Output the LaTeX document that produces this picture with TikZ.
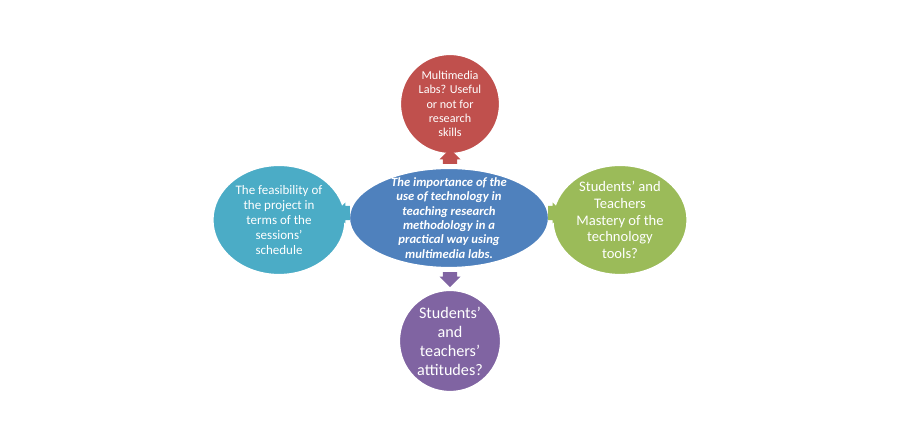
\documentclass[tikz,border=0pt]{standalone}
\usepackage{fontspec}
\setmainfont{Carlito}
\usepackage{xcolor}
\usetikzlibrary{shapes.arrows,shapes.geometric}
\definecolor{hubblue}{HTML}{4F81BD}
\definecolor{labred}{HTML}{C0504D}
\definecolor{feasteal}{HTML}{4BACC6}
\definecolor{mastgreen}{HTML}{9BBB59}
\definecolor{attpurple}{HTML}{8064A2}
\tikzset{
  bubble/.style={ellipse, draw=white, line width=1.2pt, text=white, align=center, inner sep=-3pt},
  pointer/.style={single arrow, draw=none, minimum height=0.26cm, minimum width=0.42cm, single arrow head extend=1pt, single arrow head indent=0pt, inner sep=2pt}
}
\begin{document}
\begin{tikzpicture}[x=0.02cm,y=-0.02cm]
\useasboundingbox (0,0) rectangle (900,431);

% Centre
\node[bubble, fill=hubblue, minimum width=4cm, minimum height=2cm, font=\fontsize{7.2}{8.2}\selectfont\bfseries\itshape] (hub) at (449,218)
  {The importance of the\\use of technology in\\teaching research\\methodology in a\\practical way using\\multimedia labs.};

% Satellites
\node[bubble, fill=labred, minimum width=2cm, minimum height=2cm, font=\fontsize{6.9}{8.2}\selectfont] (labs) at (450,104)
  {Multimedia\\Labs? Useful\\or not for\\research\\skills};
\node[bubble, fill=feasteal, minimum width=2.66cm, minimum height=2.2cm, font=\fontsize{7.4}{8.6}\selectfont] (feas) at (279,220)
  {The feasibility of\\the project in\\terms of the\\sessions'\\schedule};
\node[bubble, fill=mastgreen, minimum width=2.7cm, minimum height=2.2cm, font=\fontsize{8.3}{9.5}\selectfont] (mast) at (620,220)
  {Students' and\\Teachers\\Mastery of the\\technology\\tools?};
\node[bubble, fill=attpurple, minimum width=2.04cm, minimum height=2.04cm, font=\fontsize{9.2}{10.8}\selectfont] (att) at (450,341)
  {Students'\\and\\teachers'\\attitudes?};

% Small arrows
\node[pointer, fill=labred, shape border rotate=90] (upar) at (450,160) {};
\node[pointer, fill=attpurple, shape border rotate=270] (dnar) at (450,276) {};
\node[pointer, fill=feasteal, shape border rotate=180, minimum height=0.18cm] (lfar) at (346,213) {};
\node[pointer, fill=mastgreen, minimum height=0.18cm] (rtar) at (552,213) {};

\end{tikzpicture}
\end{document}
